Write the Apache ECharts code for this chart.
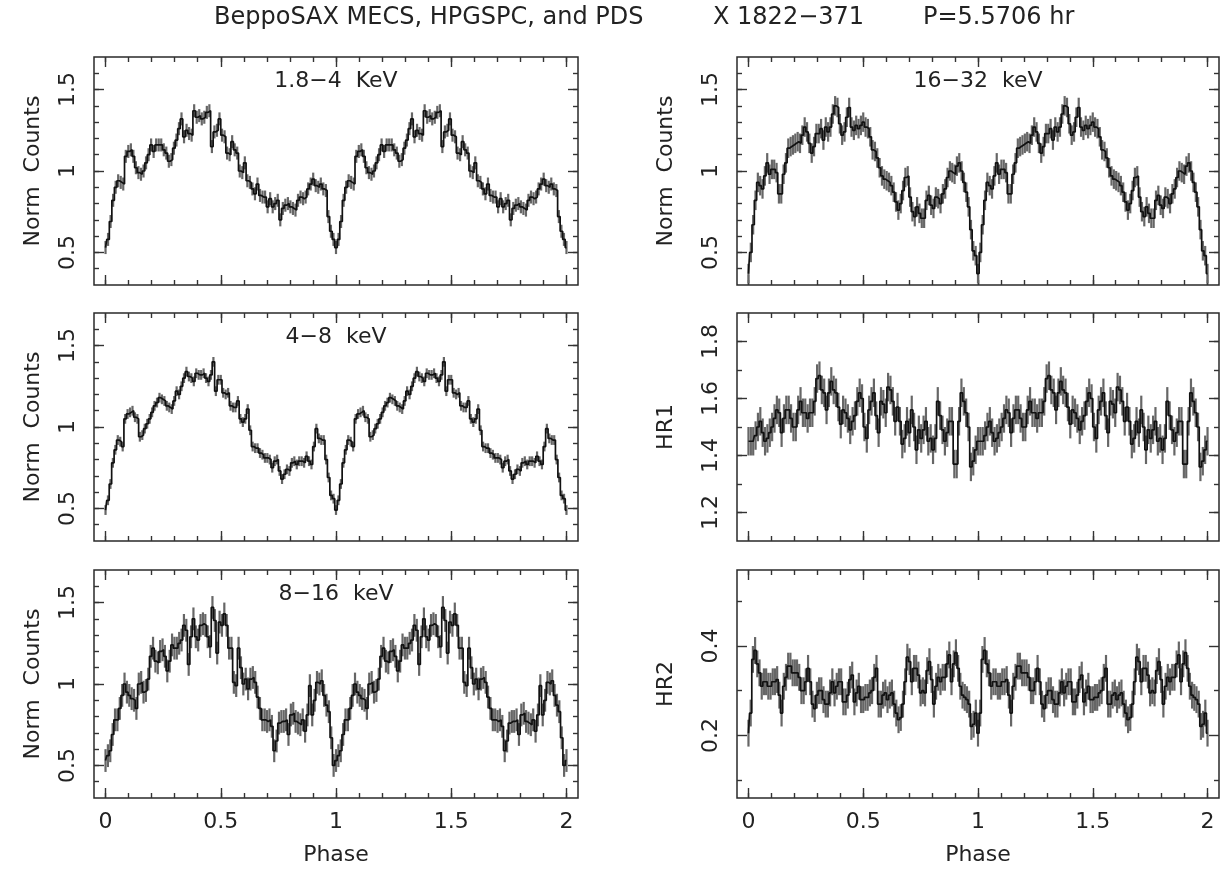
<!DOCTYPE html>
<html><head><meta charset="utf-8">
<script src="https://cdn.jsdelivr.net/npm/echarts@6/dist/echarts.min.js"></script>
<style>html,body{margin:0;padding:0;background:#fff}#c{width:1220px;height:870px}</style>
</head><body><div id="c"></div>
<script>
// ---- data: one pulse cycle per band (phase 0 -> 1), shown twice ----
const band1to4 = [0.53,0.58,0.69,0.82,0.90,0.94,0.93,0.92,1.09,1.12,
1.13,1.09,1.02,0.99,0.98,1.00,1.05,1.10,1.16,1.12,
1.16,1.16,1.16,1.13,1.11,1.06,1.07,1.14,1.19,1.26,
1.32,1.21,1.25,1.23,1.22,1.37,1.33,1.34,1.32,1.33,
1.36,1.37,1.15,1.24,1.25,1.32,1.22,1.21,1.11,1.10,
1.18,1.13,1.11,1.00,0.99,1.05,0.94,0.93,0.89,0.86,
0.92,0.85,0.84,0.84,0.78,0.83,0.78,0.80,0.82,0.70,
0.77,0.79,0.80,0.78,0.77,0.76,0.82,0.84,0.83,0.84,
0.89,0.92,0.95,0.91,0.90,0.92,0.89,0.88,0.72,0.63,0.58];
const band4to8 = [0.49,0.55,0.65,0.78,0.86,0.92,0.91,0.88,1.05,1.08,
1.09,1.10,1.06,1.05,0.94,0.95,0.99,1.02,1.05,1.09,
1.13,1.15,1.18,1.17,1.16,1.13,1.12,1.11,1.16,1.22,
1.20,1.25,1.30,1.34,1.31,1.30,1.28,1.33,1.32,1.32,
1.33,1.30,1.28,1.32,1.40,1.22,1.29,1.29,1.21,1.20,
1.21,1.13,1.12,1.12,1.16,1.05,1.03,1.05,1.11,0.98,
0.88,0.87,0.87,0.84,0.83,0.81,0.81,0.80,0.75,0.79,
0.80,0.73,0.68,0.71,0.74,0.73,0.78,0.79,0.77,0.79,
0.79,0.78,0.82,0.79,0.77,0.88,0.99,0.93,0.92,0.92,
0.80,0.69,0.58,0.56];
const band8to16 = [0.53,0.56,0.59,0.69,0.78,0.78,0.85,0.93,1.00,0.95,
0.93,0.91,0.90,0.85,1.00,1.01,0.95,0.96,1.03,1.17,
1.22,1.14,1.13,1.20,1.21,1.17,1.08,1.14,1.24,1.22,
1.22,1.25,1.27,1.36,1.33,1.12,1.29,1.40,1.29,1.27,
1.36,1.37,1.36,1.29,1.23,1.47,1.39,1.19,1.38,1.36,
1.43,1.36,1.22,1.22,1.01,0.99,1.22,1.10,1.00,1.03,
0.97,1.03,1.04,1.01,0.92,0.85,0.78,0.78,0.77,0.78,
0.74,0.59,0.65,0.76,0.77,0.77,0.78,0.69,0.81,0.82,
0.77,0.76,0.75,0.78,0.71,0.81,0.99,0.81,0.90,1.01,
1.00,1.02,0.93,0.87,0.83,0.67,0.50];
const band16to32 = [0.37,0.50,0.67,0.82,0.93,0.91,0.89,0.97,1.05,0.98,
1.01,1.01,0.99,0.86,0.86,0.98,1.05,1.14,1.15,1.16,
1.17,1.18,1.17,1.22,1.27,1.24,1.17,1.11,1.15,1.23,
1.23,1.26,1.19,1.27,1.24,1.27,1.35,1.40,1.39,1.29,
1.22,1.24,1.33,1.39,1.27,1.25,1.28,1.26,1.28,1.30,
1.27,1.26,1.21,1.13,1.12,1.08,1.02,0.97,0.95,0.94,
0.93,0.91,0.87,0.81,0.76,0.80,0.88,0.96,0.97,0.84,
0.75,0.72,0.78,0.74,0.71,0.71,0.82,0.85,0.79,0.77,
0.84,0.83,0.80,0.86,0.89,0.96,1.00,0.99,0.98,1.03,
1.05,1.00,0.93,0.87,0.78,0.64,0.51,0.48];
const hr1 = [1.45,1.45,1.45,1.47,1.50,1.52,1.48,1.45,1.46,1.48,
1.50,1.53,1.56,1.55,1.48,1.53,1.56,1.56,1.53,1.50,
1.50,1.56,1.59,1.55,1.55,1.53,1.55,1.55,1.59,1.67,
1.68,1.63,1.62,1.56,1.62,1.66,1.63,1.62,1.57,1.51,
1.56,1.55,1.53,1.49,1.52,1.54,1.59,1.62,1.60,1.50,
1.46,1.56,1.59,1.62,1.54,1.48,1.59,1.58,1.55,1.64,
1.63,1.59,1.52,1.57,1.52,1.44,1.46,1.52,1.48,1.56,
1.50,1.42,1.49,1.46,1.49,1.52,1.45,1.46,1.42,1.46,
1.59,1.54,1.49,1.45,1.48,1.52,1.52,1.37,1.37,1.52,
1.62,1.59,1.55,1.50,1.36,1.38,1.42];
const hr2 = [0.205,0.25,0.37,0.39,0.36,0.34,0.31,0.32,0.32,0.31,
0.31,0.32,0.32,0.325,0.29,0.25,0.31,0.33,0.355,0.355,
0.34,0.34,0.34,0.33,0.30,0.30,0.32,0.35,0.32,0.27,
0.26,0.29,0.30,0.30,0.28,0.27,0.27,0.295,0.32,0.295,
0.31,0.32,0.32,0.275,0.275,0.29,0.325,0.335,0.275,0.295,
0.31,0.28,0.28,0.285,0.285,0.295,0.30,0.33,0.35,0.27,
0.27,0.29,0.295,0.28,0.29,0.295,0.27,0.25,0.235,0.24,
0.27,0.32,0.375,0.365,0.32,0.35,0.35,0.335,0.295,0.30,
0.295,0.345,0.365,0.325,0.27,0.31,0.33,0.32,0.33,0.33,
0.36,0.38,0.32,0.36,0.385,0.35,0.31,0.29,0.285,0.28,
0.27,0.22,0.225,0.25];
// half-length of the error bars per panel
const errHalf = [0.04, 0.03, 0.07, 0.06, 0.05, 0.03];
// tick values
const xMajorTicks = [0, 0.5, 1, 1.5, 2];
const xMinorTicks = [0,0.1,0.2,0.3,0.4,0.5,0.6,0.7,0.8,0.9,1,1.1,1.2,1.3,1.4,1.5,1.6,1.7,1.8,1.9,2];
const countMajorTicks = [0.5, 1, 1.5];
const countMinorTicks = [0.4,0.5,0.6,0.7,0.8,0.9,1,1.1,1.2,1.3,1.4,1.5,1.6];
const hr1MajorTicks = [1.2, 1.4, 1.6, 1.8];
const hr1MinorTicks = [1.2,1.3,1.4,1.5,1.6,1.7,1.8];
const hr2MajorTicks = [0.2, 0.4];
const hr2MinorTicks = [0.1, 0.3, 0.5];
const panelTexts = ['1.8\u22124  KeV', '4\u22128  keV', '8\u221216  keV', '16\u221232  keV', '', ''];
const yNames = ['Norm  Counts', 'Norm  Counts', 'Norm  Counts', 'Norm  Counts', 'HR1', 'HR2'];
const titleParts = ['BeppoSAX MECS, HPGSPC, and PDS', 'X 1822\u2212371', 'P=5.5706 hr'];

// ---- layout / style ----
const FONT = 'DejaVu Sans';
const TXT = '#222';
const FS = 22;
const cols = [{left: 94, width: 484, nameGap: 50}, {left: 737, width: 482, nameGap: 60}];
const rows = [57, 313, 570];
const H = 228;
const panels = [
  {vals: band1to4,  col: 0, row: 0, yr: [0.3, 1.7], maj: countMajorTicks, mnr: countMinorTicks},
  {vals: band4to8,  col: 0, row: 1, yr: [0.3, 1.7], maj: countMajorTicks, mnr: countMinorTicks},
  {vals: band8to16, col: 0, row: 2, yr: [0.3, 1.7], maj: countMajorTicks, mnr: countMinorTicks},
  {vals: band16to32,col: 1, row: 0, yr: [0.3, 1.7], maj: countMajorTicks, mnr: countMinorTicks},
  {vals: hr1,       col: 1, row: 1, yr: [1.1, 1.9], maj: hr1MajorTicks, mnr: hr1MinorTicks},
  {vals: hr2,       col: 1, row: 2, yr: [0.06, 0.57], maj: hr2MajorTicks, mnr: hr2MinorTicks}
];

function fold(vals) {
  const n = vals.length, out = [];
  for (let c = 0; c < 2; c++) for (let i = 0; i < n; i++) out.push([c + i / n, vals[i]]);
  out.push([2, vals[0]]);
  return out;
}

const grid = [], xAxis = [], yAxis = [], series = [];
const tickStyle = {color: '#333', width: 1.4};
const noLine = {show: false, onZero: false};
panels.forEach((p, k) => {
  const c = cols[p.col];
  grid.push({left: c.left, top: rows[p.row], width: c.width, height: H, show: true,
    borderColor: '#2a2a2a', borderWidth: 1.5, backgroundColor: 'transparent'});
  const bottomRow = p.row === 2;
  const baseX = {gridIndex: k, type: 'value', min: -0.05, max: 2.05,
    axisLine: noLine, splitLine: {show: false}};
  xAxis.push(Object.assign({}, baseX, {position: 'bottom',
    axisTick: {show: true, inside: true, length: 10, customValues: xMajorTicks, lineStyle: tickStyle},
    axisLabel: {show: bottomRow, customValues: xMajorTicks, margin: 13, fontSize: FS, fontFamily: FONT, color: TXT},
    name: bottomRow ? 'Phase' : '', nameLocation: 'middle', nameGap: 46,
    nameTextStyle: {fontSize: FS, fontFamily: FONT, color: TXT}}));
  xAxis.push(Object.assign({}, baseX, {position: 'bottom',
    axisTick: {show: true, inside: true, length: 5, customValues: xMinorTicks, lineStyle: tickStyle},
    axisLabel: {show: false}}));
  xAxis.push(Object.assign({}, baseX, {position: 'top',
    axisTick: {show: true, inside: true, length: 10, customValues: xMajorTicks, lineStyle: tickStyle},
    axisLabel: {show: false}}));
  xAxis.push(Object.assign({}, baseX, {position: 'top',
    axisTick: {show: true, inside: true, length: 5, customValues: xMinorTicks, lineStyle: tickStyle},
    axisLabel: {show: false}}));
  const baseY = {gridIndex: k, type: 'value', min: p.yr[0], max: p.yr[1],
    axisLine: noLine, splitLine: {show: false}};
  yAxis.push(Object.assign({}, baseY, {position: 'left',
    axisTick: {show: true, inside: true, length: 10, customValues: p.maj, lineStyle: tickStyle},
    axisLabel: {show: true, customValues: p.maj, rotate: 90, margin: 15, fontSize: FS, fontFamily: FONT, color: TXT},
    name: yNames[k], nameLocation: 'middle', nameGap: c.nameGap,
    nameTextStyle: {fontSize: FS, fontFamily: FONT, color: TXT}}));
  yAxis.push(Object.assign({}, baseY, {position: 'left',
    axisTick: {show: true, inside: true, length: 5, customValues: p.mnr, lineStyle: tickStyle},
    axisLabel: {show: false}}));
  yAxis.push(Object.assign({}, baseY, {position: 'right',
    axisTick: {show: true, inside: true, length: 10, customValues: p.maj, lineStyle: tickStyle},
    axisLabel: {show: false}}));
  yAxis.push(Object.assign({}, baseY, {position: 'right',
    axisTick: {show: true, inside: true, length: 5, customValues: p.mnr, lineStyle: tickStyle},
    axisLabel: {show: false}}));

  const pts = fold(p.vals);
  const e = errHalf[k];
  series.push({type: 'custom', xAxisIndex: 4 * k, yAxisIndex: 4 * k, silent: true, clip: true, z: 1,
    data: pts.map(d => [d[0], d[1], e]),
    renderItem: (params, api) => {
      const x = api.value(0), y = api.value(1), h = api.value(2);
      const a = api.coord([x, y - h]), b = api.coord([x, y + h]);
      return {type: 'line', shape: {x1: a[0], y1: a[1], x2: b[0], y2: b[1]},
        style: {stroke: '#666', lineWidth: 2.2}};
    }});
  series.push({type: 'line', xAxisIndex: 4 * k, yAxisIndex: 4 * k, step: 'middle', data: pts,
    showSymbol: false, symbol: 'none', silent: true, z: 3,
    lineStyle: {color: '#111', width: 1.7}});
});

const titleX = [214, 713, 923];
const graphic = titleParts.map((t, i) => ({type: 'text', left: titleX[i], top: 6, silent: true,
  style: {text: t, fontSize: 24, fontFamily: FONT, fill: TXT}}));

const chart = echarts.init(document.getElementById('c'), null, {renderer: 'canvas'});
chart.setOption({animation: false, backgroundColor: '#fff', grid, xAxis, yAxis, series, graphic});

// panel captions, placed through the panel's own axes
const captions = [];
panels.forEach((p, k) => {
  if (!panelTexts[k]) return;
  const yl = p.yr[1] - 0.105 * (p.yr[1] - p.yr[0]);
  const pt = chart.convertToPixel({xAxisIndex: 4 * k, yAxisIndex: 4 * k}, [1, yl]);
  captions.push({type: 'text', x: pt[0], y: pt[1], silent: true, z: 10,
    style: {text: panelTexts[k], fontSize: FS, fontFamily: FONT, fill: TXT,
      align: 'center', verticalAlign: 'middle'}});
});
chart.setOption({graphic: graphic.concat(captions)});
</script></body></html>
